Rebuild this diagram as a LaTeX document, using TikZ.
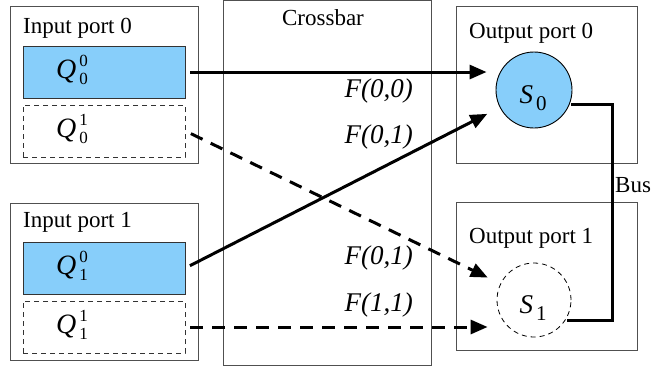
\documentclass[tikz,border=0pt]{standalone}
\usepackage{fontspec}
\setmainfont{Liberation Serif}
\usetikzlibrary{arrows.meta}
\definecolor{qblue}{RGB}{135,206,250}
\definecolor{boxgray}{RGB}{80,80,80}
\newcommand{\scr}{\fontsize{17}{17}\selectfont}
\newcommand{\qlab}[2]{\textit{Q}\hspace{3pt}\rlap{\raisebox{12pt}{\scr #1}}\raisebox{-6pt}{\scr #2}}
\newcommand{\slab}[1]{\textit{S}\hspace{3pt}\raisebox{-7pt}{\fontsize{21}{21}\selectfont #1}}
\begin{document}
\begin{tikzpicture}[x=1pt,y=-1pt,
  portbox/.style={draw=boxgray,line width=0.9pt},
  queuefull/.style={draw=black!80,line width=0.9pt,fill=qblue,minimum width=162pt,minimum height=52pt,inner sep=0pt},
  queueempty/.style={draw=black!80,line width=0.9pt,dash pattern=on 5pt off 4pt,minimum width=162pt,minimum height=52pt,inner sep=0pt},
  lbl/.style={font=\fontsize{23}{25}\selectfont,inner sep=0pt},
  qlbl/.style={font=\fontsize{28}{30}\selectfont,inner sep=0pt,anchor=base west},
  flbl/.style={font=\fontsize{27}{29}\selectfont\itshape,inner sep=0pt,anchor=east},
  slbl/.style={font=\fontsize{27}{29}\selectfont},
  conn/.style={line width=3pt,-{Triangle[length=17pt,width=14pt]}},
  dconn/.style={conn,dash pattern=on 13pt off 9pt},
  bus/.style={line width=3pt}]
\useasboundingbox (0,0) rectangle (653,367);
% input ports
\draw[portbox] (10,6) rectangle (198,163);
\node[lbl,anchor=base west] (ip0) at (23,33) {Input port 0};
\draw[portbox] (10,203) rectangle (198,360);
\node[lbl,anchor=base west] (ip1) at (23,227) {Input port 1};
\node[queuefull] (q00) at (104,72) {};
\node[queueempty] (q01) at (104,131) {};
\node[queuefull] (q10) at (104,268) {};
\node[queueempty] (q11) at (104,327) {};
\node[qlbl] (tq00) at (56,78) {\qlab{0}{0}};
\node[qlbl] (tq01) at (56,137) {\qlab{1}{0}};
\node[qlbl] (tq10) at (56,274) {\qlab{0}{1}};
\node[qlbl] (tq11) at (56,333) {\qlab{1}{1}};
% crossbar
\draw[portbox] (223,0.5) rectangle (431,365);
\node[lbl,anchor=base] (cb) at (323,25) {Crossbar};
\node[flbl] (f00) at (413,91) {F(0,0)};
\node[flbl] (f01a) at (413,137) {F(0,1)};
\node[flbl] (f01b) at (413,258) {F(0,1)};
\node[flbl] (f11) at (413,305) {F(1,1)};
% output ports
\draw[portbox] (456,6) rectangle (637,163);
\node[lbl,anchor=base west] (op0) at (469,38) {Output port 0};
\draw[portbox] (456,202) rectangle (637,350);
\node[lbl,anchor=base west] (op1) at (469,243) {Output port 1};
\node[circle,draw=black,line width=0.9pt,fill=qblue,minimum size=76pt,inner sep=0pt] (s0) at (534,90) {};
\node[slbl,anchor=base] (ts0) at (533,103) {\slab{0}};
\node[circle,draw=black,line width=0.8pt,dash pattern=on 5pt off 4pt,minimum size=74pt,inner sep=0pt] (s1) at (534,300) {};
\node[slbl,anchor=base] (ts1) at (533,313) {\slab{1}};
% connectors
\coordinate (t00) at ([xshift=-9pt]q00.east -| s0.west);
\coordinate (t11) at ([xshift=-9pt]q11.east -| s1.west);
\draw[conn,shorten <=5pt] (q00.east) -- (t00);
\draw[conn,shorten <=5pt,shorten >=14pt] (q10.east) -- (s0);
\draw[dconn,shorten <=6pt,shorten >=14pt] (q01.east) -- (s1);
\draw[dconn,shorten <=5pt] (q11.east) -- (t11);
% bus
\coordinate (b0) at ([yshift=-14pt]s0.center);
\coordinate (b1) at ([yshift=-20pt]s1.center);
\draw[bus] ([xshift=-1pt]b0 -| s0.east) -- (612,104) -- (612,320) -- ([xshift=-4pt]b1 -| s1.east);
\node[lbl,anchor=west] (buslbl) at (615,185) {Bus};
\end{tikzpicture}
\end{document}
